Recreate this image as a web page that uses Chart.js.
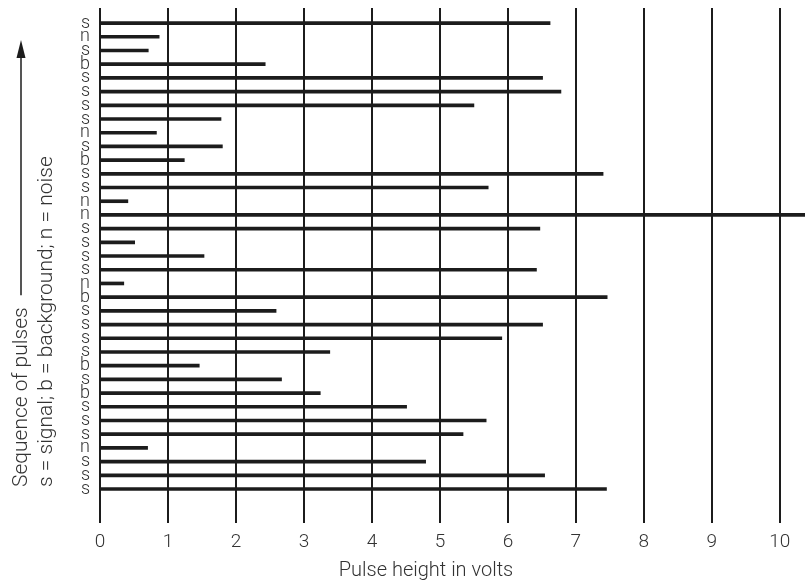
<!DOCTYPE html>
<html>
<head>
<meta charset="utf-8">
<script src="https://cdn.jsdelivr.net/npm/chart.js@4.4.1/dist/chart.umd.min.js"></script>
<style>
  html, body { margin: 0; padding: 0; background: #fff; }
  #wrap { width: 810px; height: 584px; }
</style>
</head>
<body>
<div id="wrap"><canvas id="pulseChart" width="810" height="584"></canvas></div>
<script>
// pulse sequence, top to bottom (s = signal, b = background, n = noise)
const pulseTypes = ['s', 'n', 's', 'b', 's', 's', 's', 's', 'n', 's', 'b', 's', 's', 'n', 'n', 's', 's', 's',
                    's', 'n', 'b', 's', 's', 's', 's', 'b', 's', 'b', 's', 's', 's', 'n', 's', 's', 's'];
// pulse heights in volts, same order
const pulseHeights = [6.62, 0.87, 0.71, 2.43, 6.51, 6.78, 5.50, 1.78, 0.83, 1.80, 1.24, 7.40, 5.71, 0.41, 10.37, 6.47, 0.51, 1.53,
                      6.42, 0.35, 7.46, 2.59, 6.51, 5.91, 3.38, 1.46, 2.67, 3.24, 4.51, 5.68, 5.34, 0.70, 4.79, 6.54, 7.45];
const voltTicks = [0, 1, 2, 3, 4, 5, 6, 7, 8, 9, 10];

const xTitle = 'Pulse height in volts';
const sideTitle = 'Sequence of pulses';
const sideKey = 's = signal; b = background; n = noise';

const ink = '#1c1c1c';
const textColor = '#333';
const fontFamily = 'Roboto, "Liberation Sans", sans-serif';

// titles on the left and below, drawn by hand like the printed figure
const sideText = {
    id: 'sideText',
    afterDraw(chart) {
        const ctx = chart.ctx;
        ctx.save();
        ctx.fillStyle = textColor;
        ctx.strokeStyle = ink;

        ctx.font = '300 20px ' + fontFamily;
        ctx.textAlign = 'center';
        ctx.textBaseline = 'alphabetic';
        ctx.fillText(xTitle, 426, 576);

        ctx.font = '300 21px ' + fontFamily;
        ctx.textAlign = 'left';

        // first line + arrow
        ctx.save();
        ctx.translate(27, 487);
        ctx.rotate(-Math.PI / 2);
        ctx.fillText(sideTitle, 0, 0);
        const w = ctx.measureText(sideTitle).width;
        ctx.restore();

        const ax = 21;
        ctx.lineWidth = 1.5;
        ctx.beginPath();
        ctx.moveTo(ax, 487 - w - 12);
        ctx.lineTo(ax, 55);
        ctx.stroke();
        ctx.fillStyle = ink;
        ctx.beginPath();
        ctx.moveTo(ax, 40);
        ctx.lineTo(ax - 4.5, 58);
        ctx.lineTo(ax + 4.5, 58);
        ctx.closePath();
        ctx.fill();

        // second line
        ctx.fillStyle = textColor;
        ctx.save();
        ctx.translate(52, 487);
        ctx.rotate(-Math.PI / 2);
        ctx.fillText(sideKey, 0, 0);
        ctx.restore();

        ctx.restore();
    }
};

const ctx = document.getElementById('pulseChart').getContext('2d');
new Chart(ctx, {
    type: 'bar',
    data: {
        datasets: [{
            label: 'Pulses',
            data: pulseHeights.map((v, i) => ({ x: v, y: i })),
            backgroundColor: ink,
            borderWidth: 0,
            barThickness: 3
        }]
    },
    options: {
        indexAxis: 'y',
        responsive: false,
        animation: false,
        layout: { padding: { top: 8, right: 5, left: 0, bottom: 0 } },
        plugins: {
            legend: { display: false },
            tooltip: { enabled: false }
        },
        scales: {
            x: {
                type: 'linear',
                bounds: 'data',
                min: 0,
                max: 10.37,
                border: { display: false },
                grid: { color: ink, lineWidth: 2, drawTicks: false },
                ticks: {
                    stepSize: 1,
                    includeBounds: false,
                    autoSkip: false,
                    maxRotation: 0,
                    padding: 8,
                    color: textColor,
                    font: { family: fontFamily, size: 19, weight: 300 },
                    callback: v => voltTicks.includes(v) ? String(v) : ''
                },
                afterFit(scale) {
                    scale.height = 61;
                    scale.paddingLeft = 0;
                    scale.paddingRight = 0;
                }
            },
            y: {
                type: 'linear',
                offset: false,
                reverse: true,
                min: -1.1,
                max: 36.48,
                border: { display: false },
                grid: { display: false, drawTicks: false, offset: false },
                ticks: {
                    stepSize: 1,
                    includeBounds: true,
                    autoSkip: false,
                    padding: 10,
                    color: textColor,
                    font: { family: fontFamily, size: 18, weight: 300, lineHeight: 1 },
                    callback: v => pulseTypes[v] !== undefined ? pulseTypes[v] : ''
                },
                afterFit(scale) {
                    scale.width = 100;
                    scale.paddingTop = 0;
                    scale.paddingBottom = 0;
                }
            }
        }
    },
    plugins: [sideText]
});
</script>
</body>
</html>
